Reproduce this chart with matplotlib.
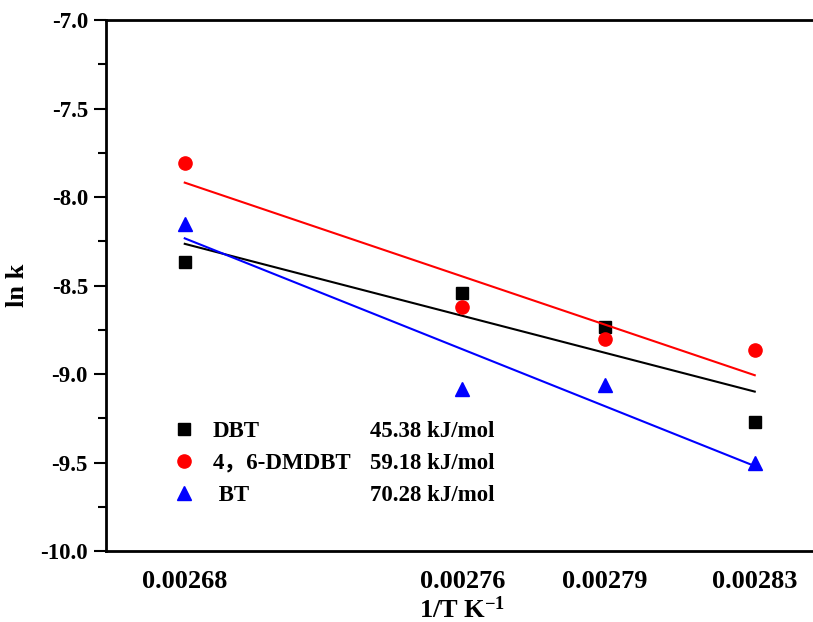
import numpy as np
import matplotlib
matplotlib.use('Agg')
import matplotlib.pyplot as plt
from matplotlib.ticker import MultipleLocator, FormatStrFormatter

plt.rcParams['font.family'] = ['Liberation Serif', 'Noto Sans CJK SC']
plt.rcParams['font.weight'] = 'bold'
plt.rcParams['mathtext.fontset'] = 'custom'
plt.rcParams['mathtext.rm'] = 'Liberation Serif:bold'
plt.rcParams['mathtext.default'] = 'rm'

# 1/T values and the labels printed under them
inv_T = [0.002681, 0.002755, 0.002793, 0.002833]
tick_labels = ['0.00268', '0.00276', '0.00279', '0.00283']

# ln k for each compound
lnk_dbt = [-8.37, -8.54, -8.735, -9.27]
lnk_dmdbt = [-7.81, -8.62, -8.80, -8.865]
lnk_bt = [-8.15, -9.085, -9.06, -9.50]

names = ['DBT', '4，6-DMDBT', ' BT']
energies = ['45.38 kJ/mol', '59.18 kJ/mol', '70.28 kJ/mol']
colors = ['black', 'red', 'blue']
markers = ['s', 'o', '^']
msizes = [8.5, 9.5, 10.5]

fig = plt.figure(figsize=(8.13, 6.22), dpi=100)
# axes runs past the right edge of the figure, like the original
ax = fig.add_axes([106 / 813, 71 / 622, 740 / 813, 531 / 622])

x = np.array(inv_T)
handles = []
for ys, c, m, ms, name in zip([lnk_dbt, lnk_dmdbt, lnk_bt], colors, markers, msizes, names):
    h, = ax.plot(x, ys, ls='none', marker=m, color=c, markersize=ms, label=name)
    handles.append(h)
    # linear fit (Arrhenius)
    p = np.polyfit(x, ys, 1)
    ax.plot(x[[0, -1]], np.polyval(p, x[[0, -1]]), color=c, lw=1.5)

ax.set_xlim(0.00266, 0.00266 + 740 / 3.75e6)
ax.set_ylim(-10.0, -7.0)
ax.set_xticks(inv_T)
ax.set_xticklabels(tick_labels, fontsize=19, fontweight='bold')
ax.tick_params(axis='x', length=0, pad=14)

ax.yaxis.set_major_locator(MultipleLocator(0.5))
ax.yaxis.set_minor_locator(MultipleLocator(0.25))
ax.yaxis.set_major_formatter(FormatStrFormatter('%.1f'))
ax.tick_params(axis='y', which='major', direction='out', length=9, width=1.5, labelsize=16.5, pad=4)
ax.tick_params(axis='y', which='minor', direction='out', length=5.5, width=1.5)

for s in ['top', 'left', 'bottom']:
    ax.spines[s].set_linewidth(2)
ax.spines['right'].set_visible(False)

ax.set_xlabel('1/T K$^{-1}$', fontsize=19, fontweight='bold', labelpad=2)
ax.xaxis.label.set_x((462 - 106) / 740)
ax.set_ylabel('ln k', fontsize=19, fontweight='bold', labelpad=8)

leg1 = ax.legend(handles=handles, loc='upper left', bbox_to_anchor=(0.0933 * 712.5 / 740, 0.245),
                 frameon=False, borderpad=0, borderaxespad=0, handlelength=1.0, handletextpad=0.75,
                 labelspacing=0.47, numpoints=1, prop={'size': 16.5, 'weight': 'bold'})
ax.add_artist(leg1)

blank = [plt.Line2D([], [], ls='none') for _ in energies]
ax.legend(blank, energies, loc='upper left', bbox_to_anchor=((370 - 106) / 740, 0.245),
          frameon=False, borderpad=0, borderaxespad=0, handlelength=0, handletextpad=0,
          labelspacing=0.47, prop={'size': 16.5, 'weight': 'bold'})

fig.savefig('out.png', dpi=100)
